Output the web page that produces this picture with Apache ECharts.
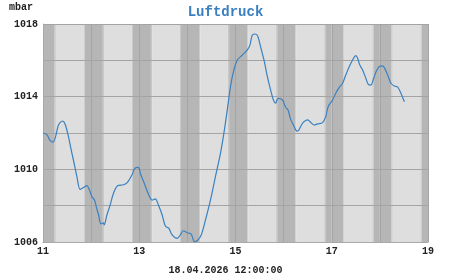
<!DOCTYPE html>
<html>
<head>
<meta charset="utf-8">
<script src="https://cdn.jsdelivr.net/npm/echarts@6/dist/echarts.min.js"></script>
<style>html,body{margin:0;padding:0;background:#fff}#c{width:451px;height:275px}</style>
</head>
<body>
<div id="c"></div>
<script>
// hours since 11.04.2026 00:00
var hours = [0,2,3.5,5,6.5,7.7,9.7,11,12.7,14,15.2,16.9,18.5,20.2,21.9,23,24.4,25.7,26.9,27.7,28.9,30.2,30.5,31.9,33.5,35.2,37.2,40.2,42.2,44.4,45.5,46.9,48,48.5,50.5,52.7,54.4,56,57.7,59.4,61,62.7,64.4,66.9,68.5,69.9,71.9,73.9,75.5,76.9,78.9,81,83.5,86,88.5,90.2,91.9,93.5,95.2,96.9,99.4,101.9,103.2,104.4,106,107.2,108.5,110.2,111.9,113.5,114.9,116,117.2,119.4,121,122.2,123.5,124.9,126,126.9,129.4,131.9,133.2,135.2,136.9,139.4,141,142.2,144.4,146,147.4,149.4,151,152.7,154.4,156,156.9,158,159.4,161,162.2,163.5,164.9,166.5,168.5,169.9,171.9,173.5,175.2,176.9,178.5,180.2];
var pressure = [1012.0,1011.9,1011.6,1011.5,1011.9,1012.44,1012.66,1012.5,1011.8,1011.1,1010.5,1009.6,1008.9,1009.0,1009.1,1008.9,1008.5,1008.3,1007.8,1007.5,1007.0,1007.05,1006.94,1007.5,1008.04,1008.7,1009.1,1009.15,1009.3,1009.7,1010.0,1010.11,1010.06,1009.8,1009.23,1008.6,1008.3,1008.37,1008.0,1007.5,1006.88,1006.76,1006.39,1006.2,1006.39,1006.62,1006.51,1006.44,1006.02,1006.07,1006.39,1007.2,1008.3,1009.6,1010.88,1011.98,1013.27,1014.55,1015.47,1016.02,1016.29,1016.57,1016.84,1017.39,1017.45,1017.3,1016.75,1016.02,1015.1,1014.37,1013.82,1013.64,1013.91,1013.82,1013.42,1013.27,1012.75,1012.44,1012.17,1012.1,1012.53,1012.72,1012.62,1012.44,1012.5,1012.57,1012.9,1013.45,1013.82,1014.19,1014.46,1014.74,1015.19,1015.65,1016.02,1016.26,1016.11,1015.74,1015.47,1015.01,1014.68,1014.64,1015.01,1015.47,1015.7,1015.65,1015.19,1014.74,1014.59,1014.52,1014.19,1013.72];
var days = [11,12,13,14,15,16,17,18];
var xTickLabels = ['11','13','15','17','19'];
var yTickLabels = ['1006','1010','1014','1018'];
var dawnHour = 5.83, sunriseHour = 6.42, sunsetHour = 20.25, duskHour = 20.83;
var titleText = 'Luftdruck';
var unitText = 'mbar';
var stampText = '18.04.2026 12:00:00';

var lineData = hours.map(function(h, i){ return [11 + h/24, pressure[i]]; });
var bandColors = ['#b6b6b6', '#c8c8c8', '#dedede'];
var bands = [];
days.forEach(function(d){
  bands.push([d, d + dawnHour/24, 0]);
  bands.push([d + dawnHour/24, d + sunriseHour/24, 1]);
  bands.push([d + sunriseHour/24, d + sunsetHour/24, 2]);
  bands.push([d + sunsetHour/24, d + duskHour/24, 1]);
  bands.push([d + duskHour/24, d + 1, 0]);
});

var font = '"Liberation Mono", "DejaVu Sans Mono", monospace';
var chart = echarts.init(document.getElementById('c'), null, {renderer:'canvas'});
chart.setOption({
  animation: false,
  backgroundColor: '#ffffff',
  title: {
    text: titleText, left: 'center', top: 0,
    textStyle: {fontFamily: font, fontWeight: 'bold', fontSize: 14, color: '#3a80c0'}
  },
  graphic: [
    {type:'text', left: 9, top: 2, style:{text: unitText, font: 'bold 10px ' + font, fill:'#222'}},
    {type:'text', left: 'center', top: 265, style:{text: stampText, font: 'bold 10px ' + font, fill:'#222'}}
  ],
  grid: {left: 43, right: 23, top: 24, bottom: 33, containLabel: false},
  xAxis: {
    type: 'value', min: 11, max: 19, interval: 1, z: 3,
    axisLine: {show: true, lineStyle: {color: '#a8a8a8', width: 1}},
    axisTick: {show: false},
    splitLine: {show: true, lineStyle: {color: '#a4a4a4', width: 1}},
    axisLabel: {
      margin: 4, color: '#222', fontFamily: font, fontWeight: 'bold', fontSize: 10,
      formatter: function(v){ var s = String(Math.round(v)); return xTickLabels.indexOf(s) >= 0 ? s : ''; }
    }
  },
  yAxis: {
    type: 'value', min: 1006, max: 1018, interval: 2, z: 3,
    axisLine: {show: true, lineStyle: {color: '#a8a8a8', width: 1}},
    axisTick: {show: false},
    splitLine: {show: true, lineStyle: {color: '#a4a4a4', width: 1}},
    axisLabel: {
      margin: 5, color: '#222', fontFamily: font, fontWeight: 'bold', fontSize: 10,
      formatter: function(v){ var s = String(Math.round(v)); return yTickLabels.indexOf(s) >= 0 ? s : ''; }
    }
  },
  series: [
    {
      type: 'custom', z: 1, silent: true,
      data: bands,
      renderItem: function(params, api){
        var p0 = api.coord([api.value(0), 1018]);
        var p1 = api.coord([api.value(1), 1006]);
        var rect = echarts.graphic.clipRectByRect(
          {x: p0[0], y: p0[1], width: p1[0]-p0[0], height: p1[1]-p0[1]},
          {x: params.coordSys.x, y: params.coordSys.y, width: params.coordSys.width, height: params.coordSys.height}
        );
        if (!rect) return;
        return {type:'rect', shape: rect, style: {fill: bandColors[api.value(2)]}};
      },
      encode: {x: [0,1], y: 2}
    },
    {
      type: 'line', z: 10, data: lineData, showSymbol: false, smooth: 0.3,
      lineStyle: {color: '#3a80c0', width: 1.2}
    }
  ]
});
</script>
</body>
</html>
